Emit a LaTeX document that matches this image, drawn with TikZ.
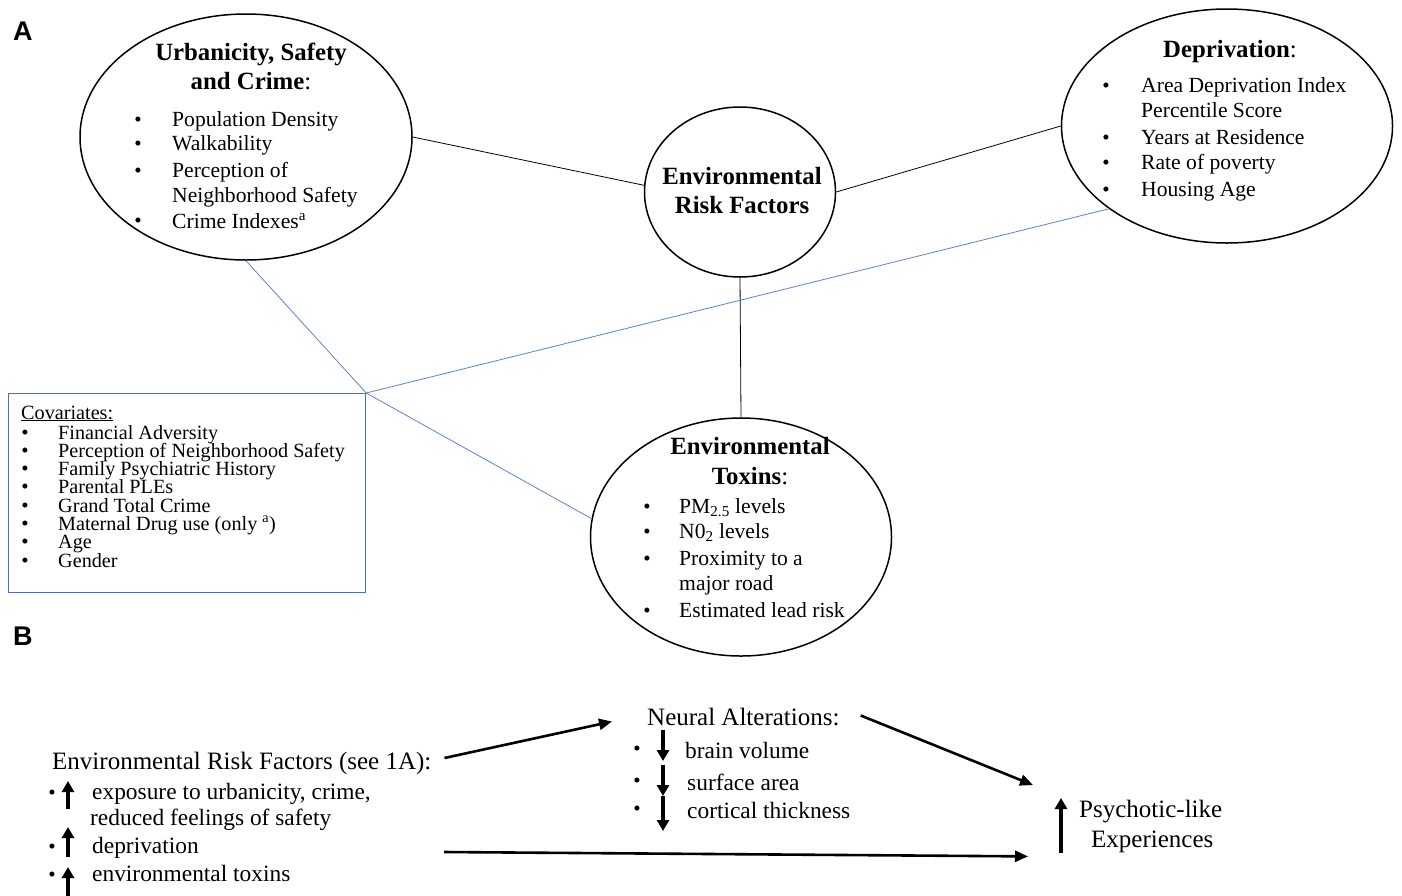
\documentclass[tikz,border=0pt]{standalone}
\usepackage{fontspec}
\setmainfont{Liberation Serif}
\newfontfamily\labfont{Liberation Sans}
\usetikzlibrary{shapes.geometric,arrows.meta,calc}
\definecolor{boxblue}{RGB}{68,114,196}
\definecolor{lineblue}{RGB}{90,130,210}
\begin{document}
\begin{tikzpicture}[x=1pt,y=-1pt,
  oval/.style={ellipse,draw,line width=1.5pt,inner sep=0pt},
  link/.style={line width=0.8pt},
  bluelink/.style={line width=0.8pt,draw=lineblue},
  txt/.style={inner sep=0pt,anchor=base west,font=\fontsize{21.6}{25}\selectfont},
  ctxt/.style={inner sep=0pt,anchor=base west,font=\fontsize{20.2}{24}\selectfont},
  bul/.style={inner sep=0pt,anchor=base,font=\fontsize{21}{25}\selectfont},
  ttl/.style={inner sep=0pt,anchor=base,font=\fontsize{24.8}{28}\selectfont},
  btxt/.style={inner sep=0pt,anchor=base west,font=\fontsize{25}{29}\selectfont},
  bitem/.style={inner sep=0pt,anchor=base west,font=\fontsize{23.4}{28}\selectfont},
  bbul/.style={inner sep=0pt,anchor=base,font=\fontsize{21}{25}\selectfont},
  lab/.style={inner sep=0pt,anchor=base west,font=\labfont\bfseries\fontsize{27}{30}\selectfont},
  flow/.style={line width=2.6pt,-{Triangle[length=13pt,width=11pt]}},
  updown/.style={line width=3.5pt,-{Triangle[length=11pt,width=12pt]}},
]
\useasboundingbox (0,0) rectangle (1402,895);

% labels
\node[lab] (labA) at (13,40) {A};
\node[lab] (labB) at (13,645) {B};

% ---------- Part A shapes ----------
\node[oval,minimum width=332pt,minimum height=246pt] (u) at (246,137) {};
\node[oval,minimum width=191pt,minimum height=170pt] (c) at (740,192) {};
\node[oval,minimum width=331pt,minimum height=234pt] (d) at (1227,126) {};
\node[oval,minimum width=301pt,minimum height=238pt] (t) at (741,537) {};
\node[draw=boxblue,line width=1.2pt,minimum width=357pt,minimum height=199pt,inner sep=0pt,anchor=north west] (cov) at (8,393) {};

% connectors
\draw[link] (u.east) -- (c.176);
\draw[link] (c.east) -- (d.west);
\draw[link] (c.south) -- (t.north);
\draw[bluelink] (u.south) -- (cov.north east);
\draw[bluelink] (cov.north east) -- (t.173);
\draw[bluelink] (d.215) -- (cov.north east);

% Urbanicity text
\node[ttl] (u1) at (251,60) {\bfseries Urbanicity, Safety};
\node[ttl] (u2) at (251,89) {\textbf{and Crime}:};
\foreach \y [count=\i] in {126,150,177,227}{\node[bul] (ub\i) at (138,\y) {•};}
\node[txt] (ul1) at (172,126) {Population Density};
\node[txt] (ul2) at (172,150) {Walkability};
\node[txt] (ul3) at (172,177) {Perception of};
\node[txt] (ul4) at (172,202) {Neighborhood Safety};
\node[txt] (ul5) at (172,228) {Crime Indexes\textsuperscript{a}};

% Central circle text
\node[ttl] (c1) at (742,184) {\bfseries Environmental};
\node[ttl] (c2) at (742,213) {\bfseries Risk Factors};

% Deprivation text
\node[ttl] (d1) at (1230,57) {\textbf{Deprivation}:};
\foreach \y [count=\i] in {92,144,169,196}{\node[bul] (db\i) at (1106,\y) {•};}
\node[txt] (dl1) at (1141,92) {Area Deprivation Index};
\node[txt] (dl2) at (1141,117) {Percentile Score};
\node[txt] (dl3) at (1141,144) {Years at Residence};
\node[txt] (dl4) at (1141,169) {Rate of poverty};
\node[txt] (dl5) at (1141,196) {Housing Age};

% Toxins text
\node[ttl] (t1) at (750,454) {\bfseries Environmental};
\node[ttl] (t2) at (750,484) {\textbf{Toxins}:};
\foreach \y [count=\i] in {513,538,565,617}{\node[bul] (tb\i) at (647,\y) {•};}
\node[txt] (tl1) at (679,513) {PM\textsubscript{2.5} levels};
\node[txt] (tl2) at (679,538) {N0\textsubscript{2} levels};
\node[txt] (tl3) at (679,565) {Proximity to a};
\node[txt] (tl4) at (679,590) {major road};
\node[txt] (tl5) at (679,617) {Estimated lead risk};

% Covariates text
\node[ctxt] (cv0) at (21,419) {\underline{Covariates:}};
\foreach \y [count=\i] in {439,457.3,475.6,493.9,512.2,530.5,548.8,567.1}{\node[bul] (cvb\i) at (25,\y) {•};}
\node[ctxt] (cv1) at (58,439) {Financial Adversity};
\node[ctxt] (cv2) at (58,457.3) {Perception of Neighborhood Safety};
\node[ctxt] (cv3) at (58,475.6) {Family Psychiatric History};
\node[ctxt] (cv4) at (58,493.9) {Parental PLEs};
\node[ctxt] (cv5) at (58,512.2) {Grand Total Crime};
\node[ctxt] (cv6) at (58,530.5) {Maternal Drug use (only \textsuperscript{a})};
\node[ctxt] (cv7) at (58,548.8) {Age};
\node[ctxt] (cv8) at (58,567.1) {Gender};

% ---------- Part B ----------
\node[btxt] (erf) at (52,769) {Environmental Risk Factors (see 1A):};
\foreach \y [count=\i] in {799,853,881}{\node[bbul] (eb\i) at (52,\y) {•};}
\draw[updown] (68,809) -- (68,781);
\draw[updown] (68,857) -- (68,827);
\draw[updown] (68,905) -- (68,867);
\node[bitem] (e1) at (92,799) {exposure to urbanicity, crime,};
\node[bitem] (e2) at (90,825) {reduced feelings of safety};
\node[bitem] (e3) at (92,853) {deprivation};
\node[bitem] (e4) at (92,881) {environmental toxins};

\node[btxt] (na) at (647,725) {Neural Alterations:};
\foreach \y [count=\i] in {755,787,815}{\node[bbul] (nb\i) at (637,\y) {•};}
\draw[updown] (663,730) -- (663,761);
\draw[updown] (663,765) -- (663,796);
\draw[updown] (663,796) -- (663,831);
\node[bitem] (n1) at (685,758) {brain volume};
\node[bitem] (n2) at (687,790) {surface area};
\node[bitem] (n3) at (687,818) {cortical thickness};

\node[btxt] (pl) at (1079,817) {Psychotic-like};
\node[btxt] (ex) at (1091,847) {Experiences};
\draw[updown] (1061,853) -- (1061,798);

\coordinate (s3) at (444,852);
\draw[flow] ($(erf.east)+(13,-5)$) -- ($(na.west)+(-35,5)$);
\draw[flow] ($(na.east)+(21,-1)$) -- ($(pl.west)+(-46,-26)$);
\draw[flow] (s3) -- ($(ex.west)+(-63,15)$);
\end{tikzpicture}
\end{document}
